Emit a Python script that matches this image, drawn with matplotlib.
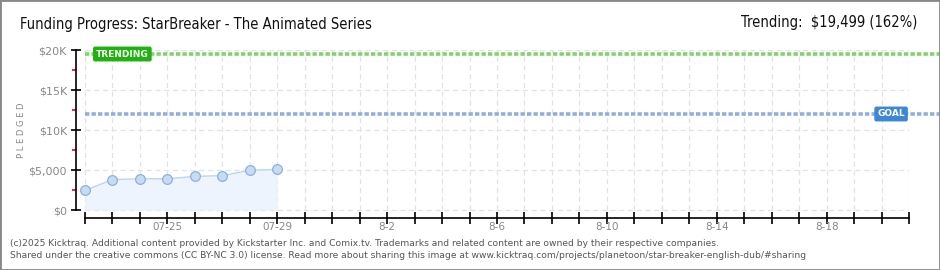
import matplotlib
matplotlib.use("Agg")
import matplotlib.pyplot as plt
import matplotlib.dates as mdates
from matplotlib.ticker import FixedLocator, FuncFormatter
import datetime as dt

# ---- data ----
dates = ["2025-07-22", "2025-07-23", "2025-07-24", "2025-07-25", "2025-07-26",
         "2025-07-27", "2025-07-28", "2025-07-29"]
pledged = [2460, 3800, 3900, 3900, 4200, 4300, 4960, 5080]
goal = 12000
trending = 19499
trend_pct = 162
x_start = "2025-07-22"
x_end = "2025-08-21"
y_major = [0, 5000, 10000, 15000, 20000]
y_major_labels = ["$0", "$5,000", "$10K", "$15K", "$20K"]
y_minor = [2500, 7500, 12500, 17500]

# ---- figure ----
W, H = 940, 270
fig = plt.figure(figsize=(W / 100, H / 100), dpi=100)
fig.patch.set_facecolor("white")

def px(x0, y0, x1, y1):
    return [x0 / W, 1 - y1 / H, (x1 - x0) / W, (y1 - y0) / H]

ax = fig.add_axes(px(76, 50, 909, 218))
d = [dt.datetime.strptime(s, "%Y-%m-%d") for s in dates]
xs = mdates.date2num(d)
x0 = mdates.date2num(dt.datetime.strptime(x_start, "%Y-%m-%d"))
x1 = mdates.date2num(dt.datetime.strptime(x_end, "%Y-%m-%d"))

ax.set_xlim(x0 - 9 / 27.5, x1)
ax.set_ylim(-1000, 20000)

# grid
for v in y_major:
    ax.plot([x0, x1], [v, v], color="#e2e2e2", lw=0.9, ls=(0, (4, 3)), zorder=0)
days = [x0 + i for i in range(int(x1 - x0) + 1)]
for v in days:
    ax.plot([v, v], [0, 20000], color="#e2e2e2", lw=0.9, ls=(0, (4, 3)), zorder=0)

# series
ax.fill_between(xs, 0, pledged, color="#edf4fd", zorder=1, lw=0)
ax.plot(xs, pledged, color="#b9d5f2", lw=1.0, zorder=2)
ax.plot(xs, pledged, ls="none", marker="o", ms=7, mfc="#c4dcf6", mec="#90b0d8",
        mew=0.9, zorder=3)

# goal & trending lines
ax.plot([x0, x1 + 1.2], [goal, goal], color="#8eb0da", lw=2.6,
        ls=(0, (1.2, 0.6)), zorder=2, clip_on=False)
ax.plot([x0, x1 + 1.2], [trending, trending], color="#7fd46a", lw=2.6,
        ls=(0, (1.2, 0.6)), zorder=2, clip_on=False)
ax.text(x0 + 0.4, trending, "TRENDING", color="white", fontsize=6.5,
        fontweight="bold", ha="left", va="center", zorder=4,
        bbox=dict(boxstyle="round,pad=0.25,rounding_size=0.15", fc="#1fb20f", ec="#1fb20f"))
ax.text(x1 - 0.15, goal, "GOAL", color="white", fontsize=6.5, fontweight="bold",
        ha="right", va="center", zorder=4,
        bbox=dict(boxstyle="round,pad=0.25,rounding_size=0.15", fc="#3d87d6", ec="#3d87d6"))

# spines
for s in ["top", "right"]:
    ax.spines[s].set_visible(False)
ax.spines["left"].set_bounds(0, 20000)
ax.spines["left"].set_linewidth(1.2)
ax.spines["bottom"].set_linewidth(1.2)
ax.spines["bottom"].set_bounds(x0, x1)

# y ticks
ax.yaxis.set_major_locator(FixedLocator(y_major))
ax.set_yticklabels(y_major_labels)
ax.yaxis.set_minor_locator(FixedLocator(y_minor))
ax.tick_params(axis="y", which="major", direction="inout", length=7, width=1.2,
               color="black", labelsize=8, labelcolor="#888888", pad=3)
ax.tick_params(axis="y", which="minor", direction="out", length=3, width=1.2,
               color="#ff0000")

# x ticks
ax.xaxis.set_major_locator(FixedLocator(days))
lab_days = {round(x0 + 3 + 4 * i) for i in range(8)}
def fmt(v, pos):
    if round(v) in lab_days:
        dd = mdates.num2date(v)
        if dd.month == 7:
            return dd.strftime("%m-%d")
        return f"{dd.month}-{dd.day}"
    return ""
ax.xaxis.set_major_formatter(FuncFormatter(fmt))
ax.tick_params(axis="x", which="major", direction="inout", length=8, width=1.2,
               color="black", labelsize=7.5, labelcolor="#888888", pad=-1)

fig.text(22 / W, 1 - 130 / H, "P L E D G E D", rotation=90, fontsize=6,
         color="#888888", ha="center", va="center")

# titles
tfont = dict(family="DejaVu Sans", stretch="condensed")
fig.text(20 / W, 1 - 25 / H, "Funding Progress: StarBreaker - The Animated Series",
         fontsize=10.5, color="#111111", ha="left", va="center", **tfont)
fig.text(917 / W, 1 - 22 / H, f"Trending:  ${trending:,} ({trend_pct}%)",
         fontsize=10.5, color="#111111", ha="right", va="center", **tfont)

# footer
fig.text(10 / W, 1 - 243 / H,
         "(c)2025 Kicktraq. Additional content provided by Kickstarter Inc. and Comix.tv. "
         "Trademarks and related content are owned by their respective companies.",
         fontsize=6.6, color="#555555", ha="left", va="center")
fig.text(10 / W, 1 - 256 / H,
         "Shared under the creative commons (CC BY-NC 3.0) license. Read more about sharing this "
         "image at www.kicktraq.com/projects/planetoon/star-breaker-english-dub/#sharing",
         fontsize=6.6, color="#555555", ha="left", va="center")

# border
fig.add_artist(plt.Rectangle((0, 0), 1, 1, transform=fig.transFigure, fill=False,
                             ec="#888888", lw=2))

fig.savefig("out.png", dpi=100)
